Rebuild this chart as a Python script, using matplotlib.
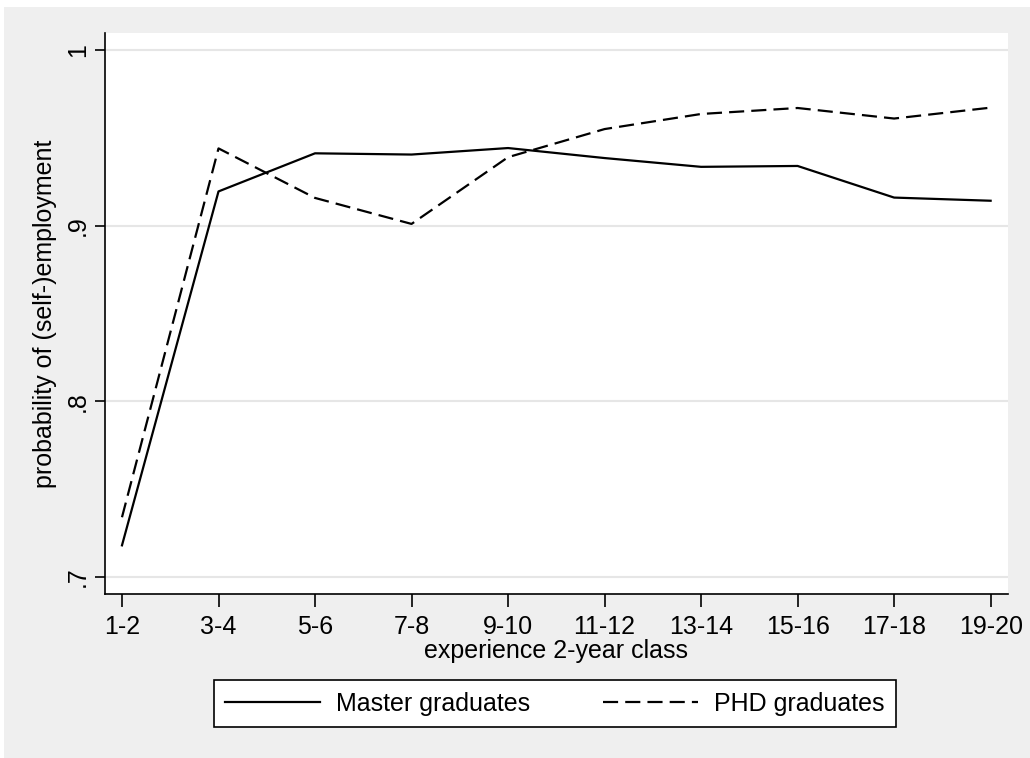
import matplotlib
matplotlib.use("Agg")
import matplotlib.pyplot as plt
from matplotlib.patches import Rectangle

# data
classes = ["1-2", "3-4", "5-6", "7-8", "9-10", "11-12", "13-14", "15-16", "17-18", "19-20"]
master = [0.718, 0.9195, 0.9412, 0.9405, 0.9442, 0.9385, 0.9335, 0.934, 0.916, 0.9142]
phd = [0.734, 0.944, 0.9158, 0.901, 0.939, 0.955, 0.9636, 0.967, 0.961, 0.9672]
yticks = [0.7, 0.8, 0.9, 1.0]
yticklabels = [".7", ".8", ".9", "1"]

plt.rcParams["font.family"] = ["Liberation Sans", "DejaVu Sans"]

fig = plt.figure(figsize=(10.3, 7.58), dpi=100, facecolor="white")
# stata-like gray graph region
fig.patches.append(Rectangle((4 / 1030, 0), 1, (758 - 7) / 758, transform=fig.transFigure,
                             facecolor="#efefef", edgecolor="none", zorder=-10))

ax = fig.add_axes([105 / 1030, (758 - 594) / 758, 903 / 1030, 561 / 758])
ax.set_facecolor("white")
x = list(range(len(classes)))
ax.plot(x, master, color="black", lw=1.6, label="Master graduates")
ax.plot(x, phd, color="black", lw=1.6, dashes=(6.8, 3.2), label="PHD graduates")

ax.set_xlim(-0.176, 9.18)
ax.set_ylim(0.6903, 1.0097)
ax.set_xticks(x)
ax.set_xticklabels(classes, fontsize=18)
ax.set_yticks(yticks)
ax.set_yticklabels(yticklabels, fontsize=18, rotation=90, va="center")
ax.tick_params(axis="x", length=9, width=1.2, pad=6)
ax.tick_params(axis="y", length=7, width=1.2, pad=4)
ax.grid(axis="y", color="#e6e6e6", lw=1.5)
ax.set_axisbelow(True)
for s in ["top", "right"]:
    ax.spines[s].set_visible(False)
ax.spines["left"].set_linewidth(1.2)
ax.spines["bottom"].set_linewidth(1.2)

ax.set_xlabel("experience 2-year class", fontsize=18, labelpad=0)
ax.set_ylabel("probability of (self-)employment", fontsize=18, labelpad=6)

leg = fig.legend(loc="center", ncol=2, fontsize=18, handlelength=3.8, handletextpad=0.65,
                 columnspacing=2.9, borderpad=0.45,
                 bbox_to_anchor=(555 / 1030, (758 - 703.5) / 758),
                 fancybox=False, edgecolor="black", framealpha=1)
leg.get_frame().set_linewidth(1.2)

fig.savefig("out.png", dpi=100, facecolor=fig.get_facecolor())
